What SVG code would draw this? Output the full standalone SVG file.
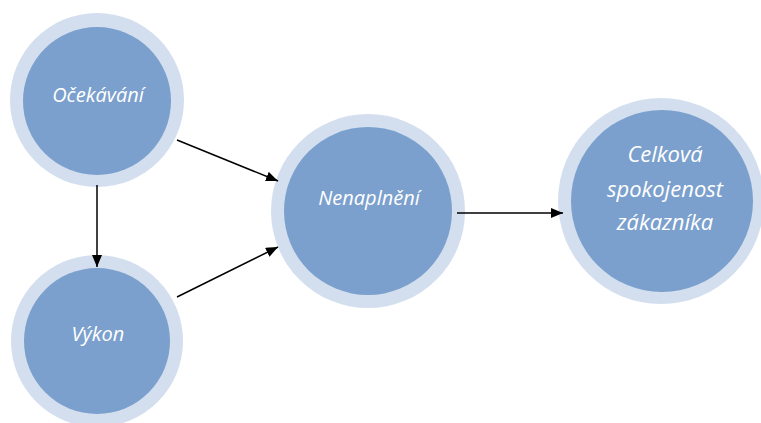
<svg xmlns="http://www.w3.org/2000/svg" width="761" height="423" viewBox="0 0 761 423">
  <style>
    .ring { fill: #d3dfee; }
    .core { fill: #7ba0cd; }
    .label { fill: #ffffff; font-family: "Open Sans", "Liberation Sans", sans-serif; font-style: italic; font-size: 20px; text-anchor: middle; }
    .big { font-size: 22px; }
    .edge { stroke: #000000; stroke-width: 1.5; fill: none; marker-end: url(#arrow); }
  </style>
  <defs>
    <marker id="arrow" viewBox="0 0 12 10" refX="12" refY="5" markerWidth="12" markerHeight="10" markerUnits="userSpaceOnUse" orient="auto">
      <path d="M0,0 L12,5 L0,10 Z" fill="#000000"/>
    </marker>
  </defs>
  <rect width="761" height="423" fill="#ffffff"/>

  <g id="node-ocekavani">
    <circle class="ring" cx="97" cy="100" r="87"/>
    <circle class="core" cx="97" cy="101" r="74"/>
    <text class="label" x="98" y="102">Očekávání</text>
  </g>

  <g id="node-vykon">
    <circle class="ring" cx="97" cy="341" r="86"/>
    <circle class="core" cx="97" cy="341" r="73"/>
    <text class="label" x="98" y="341">Výkon</text>
  </g>

  <g id="node-nenaplneni">
    <circle class="ring" cx="368" cy="211" r="97"/>
    <circle class="core" cx="368" cy="211" r="84"/>
    <text class="label" x="369" y="205">Nenaplnění</text>
  </g>

  <g id="node-spokojenost">
    <circle class="ring" cx="661" cy="201" r="103"/>
    <circle class="core" cx="662" cy="201" r="91"/>
    <text class="label big" x="665" y="162">Celková</text>
    <text class="label big" x="665" y="197">spokojenost</text>
    <text class="label big" x="665" y="230">zákazníka</text>
  </g>

  <g id="connectors">
    <line class="edge" x1="177" y1="140" x2="278" y2="181"/>
    <line class="edge" x1="177" y1="297" x2="278" y2="247"/>
    <line class="edge" x1="97" y1="185" x2="97" y2="267"/>
    <line class="edge" x1="457" y1="213" x2="563" y2="213"/>
  </g>
</svg>
